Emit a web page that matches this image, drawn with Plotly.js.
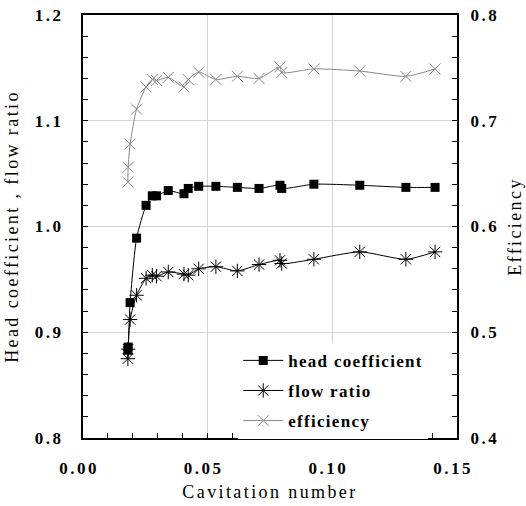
<!DOCTYPE html>
<html>
<head>
<meta charset="utf-8">
<script src="https://cdn.plot.ly/plotly-3.0.1.min.js"></script>
<style>
  html, body { margin: 0; padding: 0; background: #fff; }
  #chart { width: 526px; height: 506px; }
  text.xtitle, text.ytitle, text.y2title { letter-spacing: 2.4px; }
  .xtick text, .ytick text, .y2tick text { letter-spacing: 2.5px; }
  .legendtext { letter-spacing: 1.3px; }
</style>
</head>
<body>
<div id="chart"></div>
<script>
// Cavitation number (x) shared by all series
const cavitation = [0.0180, 0.0181, 0.0189, 0.0215, 0.0253, 0.0278, 0.0295, 0.0342, 0.0405, 0.0422,
                    0.0464, 0.0533, 0.0619, 0.0706, 0.0790, 0.0797, 0.0926, 0.1110, 0.1295, 0.1412];
const headCoefficient = [0.883, 0.886, 0.928, 0.989, 1.020, 1.029, 1.029, 1.034, 1.031, 1.036,
                         1.038, 1.038, 1.037, 1.036, 1.039, 1.036, 1.040, 1.039, 1.037, 1.037];
const flowRatio = [0.875, 0.884, 0.912, 0.935, 0.951, 0.954, 0.953, 0.957, 0.955, 0.954,
                   0.960, 0.962, 0.958, 0.964, 0.968, 0.965, 0.969, 0.976, 0.969, 0.976];
const efficiency = [0.642, 0.656, 0.678, 0.711, 0.732, 0.739, 0.738, 0.741, 0.732, 0.739,
                    0.746, 0.739, 0.742, 0.740, 0.751, 0.7455, 0.749, 0.747, 0.742, 0.749];

const xTicks = [0.00, 0.05, 0.10, 0.15];
const yTicks = [0.8, 0.9, 1.0, 1.1, 1.2];
const y2Ticks = [0.4, 0.5, 0.6, 0.7, 0.8];

const serif = 'Liberation Serif';
const tickFont = { family: serif, size: 17, color: '#000', weight: 'bold' };
const titleFont = { family: serif, size: 18, color: '#000' };

const traces = [
  {
    x: cavitation, y: headCoefficient, name: 'head coefficient', legendgroup: 'a',
    type: 'scatter', mode: 'lines+markers',
    line: { color: '#000', width: 1, shape: 'spline', smoothing: 0.6 },
    marker: { symbol: 'square', size: 9, color: '#000' }
  },
  {
    x: cavitation, y: flowRatio, name: 'flow ratio', legendgroup: 'b',
    type: 'scatter', mode: 'lines+markers',
    line: { color: '#000', width: 1, shape: 'spline', smoothing: 0.6 },
    marker: { symbol: 'asterisk-open', size: 12, color: '#000', line: { color: '#000', width: 1 } }
  },
  {
    x: cavitation, y: efficiency, name: 'efficiency', legendgroup: 'c', yaxis: 'y2',
    type: 'scatter', mode: 'lines+markers',
    line: { color: '#888', width: 1, shape: 'spline', smoothing: 0.6 },
    marker: { symbol: 'x-thin-open', size: 11, color: '#888', line: { color: '#888', width: 1 } }
  }
];

const layout = {
  width: 526, height: 506,
  margin: { l: 83, r: 69, t: 15, b: 68 },
  paper_bgcolor: '#fff', plot_bgcolor: '#fff',
  showlegend: true,
  legend: {
    x: 0.415, y: 0.225, xanchor: 'left', yanchor: 'top',
    bgcolor: '#fff', borderwidth: 0,
    font: { family: serif, size: 17, color: '#000', weight: 'bold' },
    itemwidth: 40, tracegroupgap: 5, traceorder: 'grouped'
  },
  xaxis: {
    range: [0, 0.15], tickvals: xTicks, ticktext: xTicks.map(v => v.toFixed(2)),
    ticks: 'inside', ticklen: 5, tickwidth: 1, tickcolor: '#000',
    minor: { ticks: 'inside', dtick: 0.01, ticklen: 5, tickwidth: 1, tickcolor: '#000', showgrid: false },
    showline: true, linewidth: 2, linecolor: '#000', mirror: true,
    showgrid: true, gridcolor: '#d4d4d4', gridwidth: 1, zeroline: false,
    tickfont: tickFont, ticklabelshift: -4, ticklabelstandoff: 14,
    title: { text: 'Cavitation number', font: titleFont, standoff: 8 }
  },
  yaxis: {
    range: [0.8, 1.2], tickvals: yTicks, ticktext: yTicks.map(v => v.toFixed(1)),
    ticks: 'inside', ticklen: 5, tickwidth: 1, tickcolor: '#000',
    minor: { ticks: 'inside', dtick: 0.02, ticklen: 5, tickwidth: 1, tickcolor: '#000', showgrid: false },
    showline: true, linewidth: 2, linecolor: '#000',
    showgrid: true, gridcolor: '#d4d4d4', gridwidth: 1, zeroline: false,
    tickfont: tickFont, ticklabelstandoff: 14,
    title: { text: 'Head coefficient , flow ratio', font: titleFont, standoff: 12 }
  },
  yaxis2: {
    overlaying: 'y', side: 'right',
    range: [0.4, 0.8], tickvals: y2Ticks, ticktext: y2Ticks.map(v => v.toFixed(1)),
    ticks: 'inside', ticklen: 5, tickwidth: 1, tickcolor: '#000',
    minor: { ticks: 'inside', dtick: 0.02, ticklen: 5, tickwidth: 1, tickcolor: '#000', showgrid: false },
    showline: true, linewidth: 2, linecolor: '#000',
    showgrid: false, zeroline: false,
    tickfont: tickFont, ticklabelstandoff: 8,
    title: { text: 'Efficiency', font: titleFont, standoff: 10 }
  }
};

Plotly.newPlot('chart', traces, layout, { staticPlot: true, displayModeBar: false });
</script>
</body>
</html>
